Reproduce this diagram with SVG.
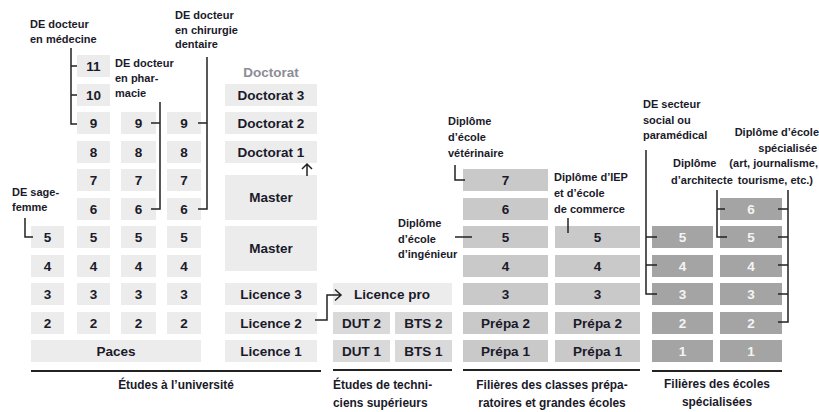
<svg xmlns="http://www.w3.org/2000/svg" width="819" height="412" viewBox="0 0 819 412">
<style>
text{font-family:"Liberation Sans",Arial,sans-serif;font-weight:bold}
.t{font-size:13.5px;fill:#1a1a2a;text-anchor:middle}
.w{fill:#f4f4f4}
.a{font-size:11px;fill:#1a1a2a}
.h{font-size:11.9px}
.e{text-anchor:end}
.m{text-anchor:middle}
.c1{fill:#ececec}
.c2{fill:#d9d9d9}
.c3{fill:#c9c9c9}
.c4{fill:#a4a4a4}
.ln{stroke:#222;stroke-width:1.5;fill:none}
.ul{stroke:#222;stroke-width:2}
</style>
<rect width="819" height="412" fill="#fff"/>
<!-- University: column A (sage-femme) -->
<g id="a5"><rect class="c1" x="31" y="226" width="33" height="22"/><text class="t" x="47.5" y="242">5</text></g>
<g id="a4"><rect class="c1" x="31" y="255" width="33" height="22"/><text class="t" x="47.5" y="271">4</text></g>
<g id="a3"><rect class="c1" x="31" y="283" width="33" height="22"/><text class="t" x="47.5" y="299">3</text></g>
<g id="a2"><rect class="c1" x="31" y="312" width="33" height="22"/><text class="t" x="47.5" y="328">2</text></g>
<!-- column B (médecine) -->
<g id="b11"><rect class="c1" x="77" y="55" width="33" height="22"/><text class="t" x="93.5" y="71">11</text></g>
<g id="b10"><rect class="c1" x="77" y="84" width="33" height="22"/><text class="t" x="93.5" y="100">10</text></g>
<g id="b9"><rect class="c1" x="77" y="112" width="33" height="22"/><text class="t" x="93.5" y="128">9</text></g>
<g id="b8"><rect class="c1" x="77" y="141" width="33" height="22"/><text class="t" x="93.5" y="157">8</text></g>
<g id="b7"><rect class="c1" x="77" y="169" width="33" height="22"/><text class="t" x="93.5" y="185">7</text></g>
<g id="b6"><rect class="c1" x="77" y="198" width="33" height="22"/><text class="t" x="93.5" y="214">6</text></g>
<g id="b5"><rect class="c1" x="77" y="226" width="33" height="22"/><text class="t" x="93.5" y="242">5</text></g>
<g id="b4"><rect class="c1" x="77" y="255" width="33" height="22"/><text class="t" x="93.5" y="271">4</text></g>
<g id="b3"><rect class="c1" x="77" y="283" width="33" height="22"/><text class="t" x="93.5" y="299">3</text></g>
<g id="b2"><rect class="c1" x="77" y="312" width="33" height="22"/><text class="t" x="93.5" y="328">2</text></g>
<!-- column C (pharmacie) -->
<g id="c9"><rect class="c1" x="121" y="112" width="35" height="22"/><text class="t" x="138.5" y="128">9</text></g>
<g id="c8"><rect class="c1" x="121" y="141" width="35" height="22"/><text class="t" x="138.5" y="157">8</text></g>
<g id="c7"><rect class="c1" x="121" y="169" width="35" height="22"/><text class="t" x="138.5" y="185">7</text></g>
<g id="c6"><rect class="c1" x="121" y="198" width="35" height="22"/><text class="t" x="138.5" y="214">6</text></g>
<g id="c5"><rect class="c1" x="121" y="226" width="35" height="22"/><text class="t" x="138.5" y="242">5</text></g>
<g id="c4"><rect class="c1" x="121" y="255" width="35" height="22"/><text class="t" x="138.5" y="271">4</text></g>
<g id="c3"><rect class="c1" x="121" y="283" width="35" height="22"/><text class="t" x="138.5" y="299">3</text></g>
<g id="c2"><rect class="c1" x="121" y="312" width="35" height="22"/><text class="t" x="138.5" y="328">2</text></g>
<!-- column D (dentaire) -->
<g id="d9"><rect class="c1" x="167" y="112" width="34" height="22"/><text class="t" x="184" y="128">9</text></g>
<g id="d8"><rect class="c1" x="167" y="141" width="34" height="22"/><text class="t" x="184" y="157">8</text></g>
<g id="d7"><rect class="c1" x="167" y="169" width="34" height="22"/><text class="t" x="184" y="185">7</text></g>
<g id="d6"><rect class="c1" x="167" y="198" width="34" height="22"/><text class="t" x="184" y="214">6</text></g>
<g id="d5"><rect class="c1" x="167" y="226" width="34" height="22"/><text class="t" x="184" y="242">5</text></g>
<g id="d4"><rect class="c1" x="167" y="255" width="34" height="22"/><text class="t" x="184" y="271">4</text></g>
<g id="d3"><rect class="c1" x="167" y="283" width="34" height="22"/><text class="t" x="184" y="299">3</text></g>
<g id="d2"><rect class="c1" x="167" y="312" width="34" height="22"/><text class="t" x="184" y="328">2</text></g>
<g id="paces"><rect class="c1" x="31" y="340" width="170" height="22"/><text class="t" x="116" y="356">Paces</text></g>
<!-- LMD column -->
<g id="doctorat-title"><text class="t" x="271" y="77" style="fill:#8c8c96">Doctorat</text></g>
<g id="doctorat3"><rect class="c1" x="225" y="84" width="92" height="22"/><text class="t" x="271" y="100">Doctorat 3</text></g>
<g id="doctorat2"><rect class="c1" x="225" y="112" width="92" height="22"/><text class="t" x="271" y="128">Doctorat 2</text></g>
<g id="doctorat1"><rect class="c1" x="225" y="141" width="92" height="22"/><text class="t" x="271" y="157">Doctorat 1</text></g>
<g id="master2"><rect class="c1" x="225" y="175" width="92" height="45"/><text class="t" x="271" y="202">Master</text></g>
<g id="master1"><rect class="c1" x="225" y="226" width="92" height="45"/><text class="t" x="271" y="253">Master</text></g>
<g id="licence3"><rect class="c1" x="225" y="283" width="92" height="22"/><text class="t" x="271" y="299">Licence 3</text></g>
<g id="licence2"><rect class="c1" x="225" y="312" width="92" height="22"/><text class="t" x="271" y="328">Licence 2</text></g>
<g id="licence1"><rect class="c1" x="225" y="340" width="92" height="22"/><text class="t" x="271" y="356">Licence 1</text></g>
<!-- Techniciens -->
<g id="licencepro"><rect class="c1" x="333" y="283" width="119" height="22"/><text class="t" x="392" y="299">Licence pro</text></g>
<g id="dut2"><rect class="c2" x="333" y="312" width="57" height="22"/><text class="t" x="361.5" y="328">DUT 2</text></g>
<g id="bts2"><rect class="c2" x="395" y="312" width="57" height="22"/><text class="t" x="423.5" y="328">BTS 2</text></g>
<g id="dut1"><rect class="c2" x="333" y="340" width="57" height="22"/><text class="t" x="361.5" y="356">DUT 1</text></g>
<g id="bts1"><rect class="c2" x="395" y="340" width="57" height="22"/><text class="t" x="423.5" y="356">BTS 1</text></g>
<!-- Prépa -->
<g id="p1-7"><rect class="c3" x="463" y="169" width="85" height="22"/><text class="t" x="505.5" y="185">7</text></g>
<g id="p1-6"><rect class="c3" x="463" y="198" width="85" height="22"/><text class="t" x="505.5" y="214">6</text></g>
<g id="p1-5"><rect class="c3" x="463" y="226" width="85" height="22"/><text class="t" x="505.5" y="242">5</text></g>
<g id="p1-4"><rect class="c3" x="463" y="255" width="85" height="22"/><text class="t" x="505.5" y="271">4</text></g>
<g id="p1-3"><rect class="c3" x="463" y="283" width="85" height="22"/><text class="t" x="505.5" y="299">3</text></g>
<g id="p1-2"><rect class="c3" x="463" y="312" width="85" height="22"/><text class="t" x="505.5" y="328">Prépa 2</text></g>
<g id="p1-1"><rect class="c3" x="463" y="340" width="85" height="22"/><text class="t" x="505.5" y="356">Prépa 1</text></g>
<g id="p2-5"><rect class="c3" x="555" y="226" width="85" height="22"/><text class="t" x="597.5" y="242">5</text></g>
<g id="p2-4"><rect class="c3" x="555" y="255" width="85" height="22"/><text class="t" x="597.5" y="271">4</text></g>
<g id="p2-3"><rect class="c3" x="555" y="283" width="85" height="22"/><text class="t" x="597.5" y="299">3</text></g>
<g id="p2-2"><rect class="c3" x="555" y="312" width="85" height="22"/><text class="t" x="597.5" y="328">Prépa 2</text></g>
<g id="p2-1"><rect class="c3" x="555" y="340" width="85" height="22"/><text class="t" x="597.5" y="356">Prépa 1</text></g>
<!-- Écoles spécialisées -->
<g id="e1-5"><rect class="c4" x="652" y="226" width="61" height="22"/><text class="t w" x="682.5" y="242">5</text></g>
<g id="e1-4"><rect class="c4" x="652" y="255" width="61" height="22"/><text class="t w" x="682.5" y="271">4</text></g>
<g id="e1-3"><rect class="c4" x="652" y="283" width="61" height="22"/><text class="t w" x="682.5" y="299">3</text></g>
<g id="e1-2"><rect class="c4" x="652" y="312" width="61" height="22"/><text class="t w" x="682.5" y="328">2</text></g>
<g id="e1-1"><rect class="c4" x="652" y="340" width="61" height="22"/><text class="t w" x="682.5" y="356">1</text></g>
<g id="e2-6"><rect class="c4" x="720" y="198" width="62" height="22"/><text class="t w" x="751" y="214">6</text></g>
<g id="e2-5"><rect class="c4" x="720" y="226" width="62" height="22"/><text class="t w" x="751" y="242">5</text></g>
<g id="e2-4"><rect class="c4" x="720" y="255" width="62" height="22"/><text class="t w" x="751" y="271">4</text></g>
<g id="e2-3"><rect class="c4" x="720" y="283" width="62" height="22"/><text class="t w" x="751" y="299">3</text></g>
<g id="e2-2"><rect class="c4" x="720" y="312" width="62" height="22"/><text class="t w" x="751" y="328">2</text></g>
<g id="e2-1"><rect class="c4" x="720" y="340" width="62" height="22"/><text class="t w" x="751" y="356">1</text></g>
<!-- Annotations -->
<g id="lbl-medecine"><text class="a" x="30" y="28">DE docteur</text><text class="a" x="30" y="43">en médecine</text></g>
<g id="lbl-pharmacie"><text class="a" x="115" y="67">DE docteur</text><text class="a" x="115" y="82">en phar-</text><text class="a" x="115" y="97">macie</text></g>
<g id="lbl-dentaire"><text class="a" x="175" y="19">DE docteur</text><text class="a" x="175" y="34">en chirurgie</text><text class="a" x="175" y="48">dentaire</text></g>
<g id="lbl-sagefemme"><text class="a" x="12" y="196">DE sage-</text><text class="a" x="12" y="211">femme</text></g>
<g id="lbl-veterinaire"><text class="a" x="448" y="125">Diplôme</text><text class="a" x="448" y="141">d’école</text><text class="a" x="448" y="157">vétérinaire</text></g>
<g id="lbl-iep"><text class="a" x="554" y="181">Diplôme d’IEP</text><text class="a" x="554" y="197">et d’école</text><text class="a" x="554" y="213">de commerce</text></g>
<g id="lbl-ingenieur"><text class="a" x="398" y="227">Diplôme</text><text class="a" x="398" y="243">d’école</text><text class="a" x="398" y="258">d’ingénieur</text></g>
<g id="lbl-social"><text class="a" x="643" y="108">DE secteur</text><text class="a" x="643" y="124">social ou</text><text class="a" x="643" y="139">paramédical</text></g>
<g id="lbl-architecte"><text class="a" x="673" y="167">Diplôme</text><text class="a" x="671" y="184">d’architecte</text></g>
<g id="lbl-specialisee"><text class="a e" x="819" y="136">Diplôme d’école</text><text class="a e" x="817" y="152">spécialisée</text><text class="a e" x="818" y="167">(art, journalisme,</text><text class="a e" x="813" y="184">tourisme, etc.)</text></g>
<!-- Section titles -->
<g id="ttl-univ"><line class="ul" x1="31" y1="371" x2="321" y2="371"/><text class="a h m" x="176" y="389">Études à l’université</text></g>
<g id="ttl-tech"><line class="ul" x1="333" y1="370" x2="452" y2="370"/><text class="a h" x="333" y="389">Études de techni-</text><text class="a h" x="333" y="407">ciens supérieurs</text></g>
<g id="ttl-prepa"><line class="ul" x1="463" y1="370" x2="640" y2="370"/><text class="a h m" x="552" y="389">Filières des classes prépa-</text><text class="a h m" x="552" y="407">ratoires et grandes écoles</text></g>
<g id="ttl-ecoles"><line class="ul" x1="652" y1="371" x2="782" y2="371"/><text class="a h m" x="717" y="388">Filières des écoles</text><text class="a h m" x="717" y="406">spécialisées</text></g>
<!-- Connectors -->
<g id="connectors">
<path class="ln" d="M71,48 V124 H77 M71,66 H77 M71,95 H77"/>
<path class="ln" d="M160,102 V209 H151 M160,123 H151"/>
<path class="ln" d="M207,57 V209 H198 M207,123 H198"/>
<path class="ln" d="M25,218 V237 H33"/>
<path class="ln" d="M455,165 V180 H465"/>
<path class="ln" d="M568,218 V233"/>
<path class="ln" d="M455,237 H472"/>
<path class="ln" d="M646,150 V294 H657 M646,237 H657 M646,265 H657"/>
<path class="ln" d="M717,190 V237 H727 M717,209 H725"/>
<path class="ln" d="M788,190 V322 H778 M788,209 H778 M788,237 H778 M788,265 H778 M788,294 H778"/>
<path class="ln" d="M315,320 H327 V295 H341 M335,289.5 L341,295 L335,300.5"/>
<path class="ln" d="M307,176 V164 M302,169 L307,164 L312,169"/>
</g>
</svg>
